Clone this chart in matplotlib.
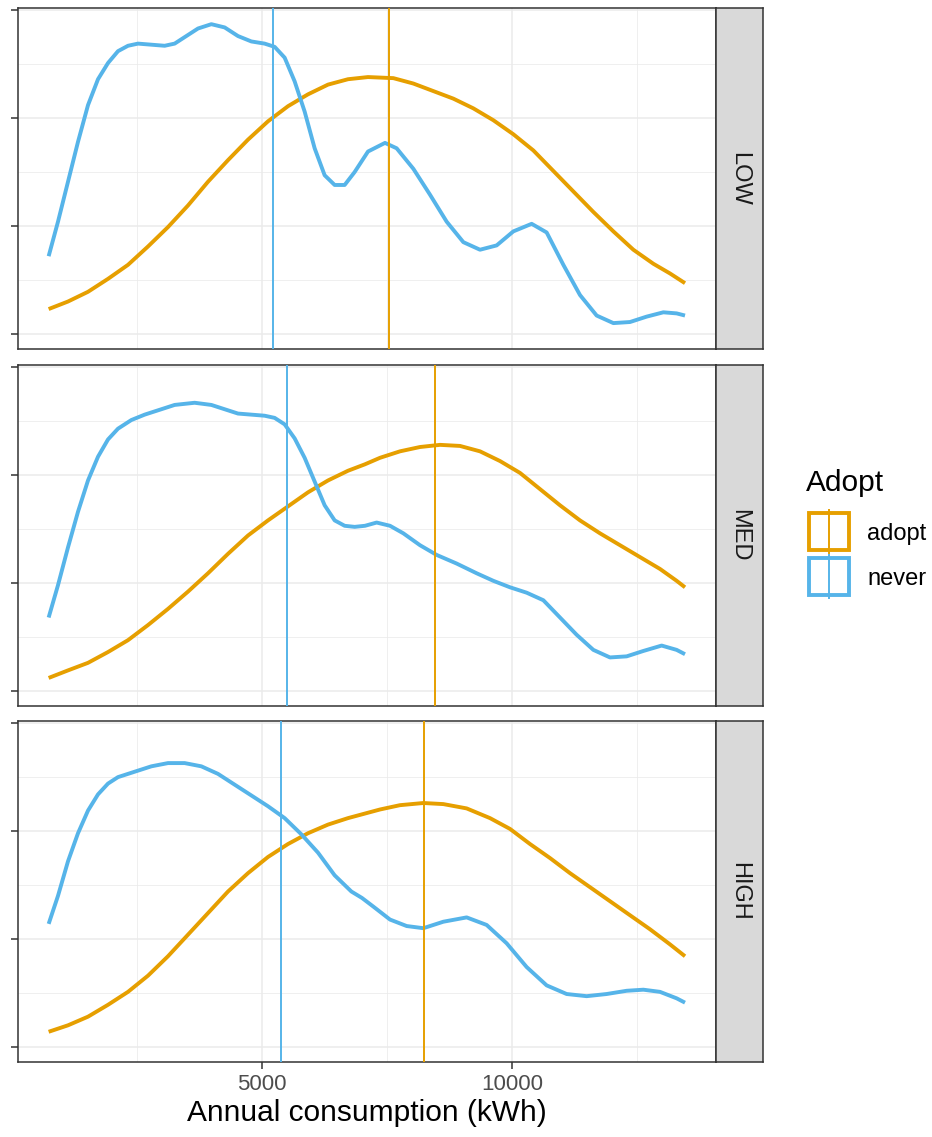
import matplotlib
matplotlib.use("Agg")
import matplotlib.pyplot as plt
from matplotlib.patches import Rectangle
from matplotlib.lines import Line2D
from matplotlib.ticker import MultipleLocator

plt.rcParams['font.family'] = ['Liberation Sans', 'DejaVu Sans']

# density values (arbitrary units, one y tick = 1), x in kWh
groups = ["LOW", "MED", "HIGH"]
adopt_col = "#E69F00"
never_col = "#56B4E9"

low_never_x = [733, 920, 1120, 1320, 1520, 1720, 1920, 2120, 2320, 2520, 2787, 3053, 3253, 3453,
               3720, 3987, 4253, 4520, 4787, 5053, 5253, 5453, 5653, 5853, 6053, 6253, 6453,
               6653, 6853, 7120, 7460, 7693, 8027, 8360, 8693, 9027, 9360, 9693, 10027, 10393,
               10693, 11027, 11360, 11693, 12027, 12360, 12693, 13027, 13293, 13460]
low_never_y = [0.72, 1.04, 1.41, 1.78, 2.12, 2.36, 2.51, 2.62, 2.67, 2.69, 2.68, 2.67, 2.69, 2.75,
               2.83, 2.87, 2.84, 2.76, 2.71, 2.69, 2.66, 2.56, 2.34, 2.06, 1.72, 1.47, 1.38,
               1.38, 1.50, 1.69, 1.77, 1.72, 1.53, 1.29, 1.04, 0.85, 0.78, 0.82, 0.95, 1.02,
               0.94, 0.64, 0.36, 0.17, 0.10, 0.11, 0.16, 0.20, 0.19, 0.17]
low_adopt_x = [733, 1120, 1520, 1920, 2320, 2720, 3120, 3520, 3920, 4320, 4720, 5120, 5520, 5920,
               6320, 6720, 7120, 7627, 8027, 8427, 8827, 9227, 9627, 10027, 10427, 10827,
               11227, 11627, 12027, 12427, 12827, 13160, 13460]
low_adopt_y = [0.23, 0.30, 0.39, 0.51, 0.64, 0.81, 0.99, 1.19, 1.41, 1.61, 1.80, 1.97, 2.11, 2.22,
               2.31, 2.36, 2.38, 2.37, 2.32, 2.25, 2.18, 2.09, 1.98, 1.85, 1.70, 1.51,
               1.32, 1.13, 0.95, 0.78, 0.65, 0.56, 0.47]

med_never_x = [733, 920, 1120, 1320, 1520, 1720, 1920, 2120, 2387, 2653, 2920, 3253, 3653, 3987,
               4253, 4520, 4787, 5053, 5253, 5453, 5653, 5853, 6053, 6253, 6453, 6653, 6853,
               7060, 7293, 7560, 7827, 8160, 8493, 8893, 9293, 9627, 9960, 10293, 10627, 10960,
               11293, 11627, 11960, 12293, 12627, 12993, 13293, 13460]
med_never_y = [0.68, 0.98, 1.33, 1.66, 1.95, 2.17, 2.33, 2.43, 2.51, 2.56, 2.60, 2.65, 2.67, 2.65,
               2.61, 2.57, 2.56, 2.55, 2.53, 2.47, 2.34, 2.16, 1.94, 1.72, 1.58, 1.53, 1.52,
               1.53, 1.56, 1.53, 1.46, 1.35, 1.26, 1.18, 1.09, 1.02, 0.96, 0.91, 0.84, 0.68,
               0.52, 0.38, 0.31, 0.32, 0.37, 0.42, 0.38, 0.34]
med_adopt_x = [733, 1120, 1520, 1920, 2320, 2720, 3120, 3520, 3920, 4320, 4720, 5120, 5520, 5920,
               6320, 6720, 7060, 7360, 7760, 8160, 8560, 8960, 9360, 9760, 10160, 10560, 10960,
               11360, 11760, 12160, 12560, 12960, 13293, 13460]
med_adopt_y = [0.12, 0.19, 0.26, 0.36, 0.47, 0.61, 0.76, 0.92, 1.09, 1.27, 1.44, 1.58, 1.71, 1.84,
               1.95, 2.04, 2.10, 2.16, 2.22, 2.26, 2.28, 2.27, 2.22, 2.13, 2.02, 1.87, 1.72,
               1.58, 1.46, 1.35, 1.24, 1.13, 1.02, 0.96]

high_never_x = [733, 920, 1120, 1320, 1520, 1720, 1920, 2120, 2453, 2787, 3120, 3453, 3787, 4120,
                4453, 4787, 5120, 5453, 5787, 6120, 6453, 6787, 7000, 7227, 7560, 7893, 8227,
                8627, 9093, 9493, 9893, 10293, 10693, 11093, 11493, 11893, 12293, 12627, 12960,
                13293, 13460]
high_never_y = [1.14, 1.40, 1.72, 1.98, 2.19, 2.34, 2.44, 2.50, 2.55, 2.60, 2.63, 2.63, 2.60, 2.53,
                2.43, 2.33, 2.23, 2.12, 1.97, 1.80, 1.59, 1.44, 1.38, 1.30, 1.18, 1.12, 1.10,
                1.16, 1.20, 1.13, 0.96, 0.74, 0.57, 0.49, 0.47, 0.49, 0.52, 0.53, 0.51,
                0.45, 0.41]
high_adopt_x = [733, 1120, 1520, 1920, 2320, 2720, 3120, 3520, 3920, 4320, 4720, 5120, 5520, 5920,
                6320, 6720, 7040, 7360, 7760, 8227, 8627, 9093, 9560, 9960, 10360, 10760, 11160,
                11560, 11960, 12360, 12760, 13160, 13460]
high_adopt_y = [0.14, 0.20, 0.28, 0.39, 0.51, 0.66, 0.84, 1.04, 1.24, 1.44, 1.61, 1.76, 1.88, 1.98,
                2.06, 2.12, 2.16, 2.20, 2.24, 2.26, 2.25, 2.21, 2.12, 2.02, 1.88, 1.75, 1.61,
                1.48, 1.35, 1.22, 1.09, 0.95, 0.84]

# group means (kWh)
never_means = [5220, 5490, 5370]
adopt_means = [7540, 8460, 8240]

never_x = [low_never_x, med_never_x, high_never_x]
never_y = [low_never_y, med_never_y, high_never_y]
adopt_x = [low_adopt_x, med_adopt_x, high_adopt_x]
adopt_y = [low_adopt_y, med_adopt_y, high_adopt_y]

W, H = 932, 1137
fig = plt.figure(figsize=(W / 100, H / 100), dpi=100)

left, right = 18, 716
strip_w = 47
panel_tops = [8, 365, 721]
panel_h = 341

axes = []
for i, g in enumerate(groups):
    top = panel_tops[i]
    ax = fig.add_axes([left / W, 1 - (top + panel_h) / H, (right - left) / W, panel_h / H])
    axes.append(ax)
    ax.set_xlim(120, 14080)
    ax.set_ylim(-0.14, 3.02)
    ax.xaxis.set_major_locator(MultipleLocator(5000))
    ax.xaxis.set_minor_locator(MultipleLocator(2500))
    ax.yaxis.set_major_locator(MultipleLocator(1))
    ax.yaxis.set_minor_locator(MultipleLocator(0.5))
    ax.grid(which='major', color='#EBEBEB', lw=1.1)
    ax.grid(which='minor', color='#EBEBEB', lw=0.55)
    ax.set_axisbelow(True)
    ax.tick_params(which='minor', length=0)
    ax.tick_params(which='major', length=5, width=1.1, color='#333333',
                   labelsize=16, labelcolor='#4D4D4D')
    ax.set_yticklabels([])
    if i < 2:
        ax.tick_params(axis='x', which='major', length=0, labelbottom=False)
    for s in ax.spines.values():
        s.set_color('#333333')
        s.set_linewidth(1.1)

    ax.plot(adopt_x[i], adopt_y[i], color=adopt_col, lw=2.8, solid_capstyle='butt',
            solid_joinstyle='round', zorder=3)
    ax.plot(never_x[i], never_y[i], color=never_col, lw=2.8, solid_capstyle='butt',
            solid_joinstyle='round', zorder=3)
    ax.axvline(adopt_means[i], color=adopt_col, lw=1.4, zorder=4)
    ax.axvline(never_means[i], color=never_col, lw=1.4, zorder=4)

    # facet strip on the right
    sax = fig.add_axes([right / W, 1 - (top + panel_h) / H, strip_w / W, panel_h / H])
    sax.set_xticks([])
    sax.set_yticks([])
    sax.set_facecolor('#D9D9D9')
    for s in sax.spines.values():
        s.set_color('#333333')
        s.set_linewidth(1.1)
    sax.text(0.5, 0.5, g, rotation=-90, ha='center', va='center', fontsize=17,
             color='#1A1A1A', transform=sax.transAxes)

axes[-1].set_xlabel("Annual consumption (kWh)", fontsize=21.5, color='black', labelpad=3)

# legend
fig.text(806 / W, 1 - 483 / H, "Adopt", fontsize=21.5, ha='left', va='center')
for j, (lab, col) in enumerate([("adopt", adopt_col), ("never", never_col)]):
    y0 = 513 + j * 45
    fig.add_artist(Rectangle((809 / W, 1 - (y0 + 37) / H), 40 / W, 37 / H, transform=fig.transFigure,
                             fill=False, edgecolor=col, lw=2.8))
    fig.add_artist(Line2D([829 / W, 829 / W], [1 - (y0 + 40) / H, 1 - (y0 - 3) / H],
                          transform=fig.transFigure, color=col, lw=1.4))
    fig.text(867 / W, 1 - (y0 + 21) / H, lab, fontsize=17, ha='left', va='center')

fig.savefig("out.png", dpi=100)
